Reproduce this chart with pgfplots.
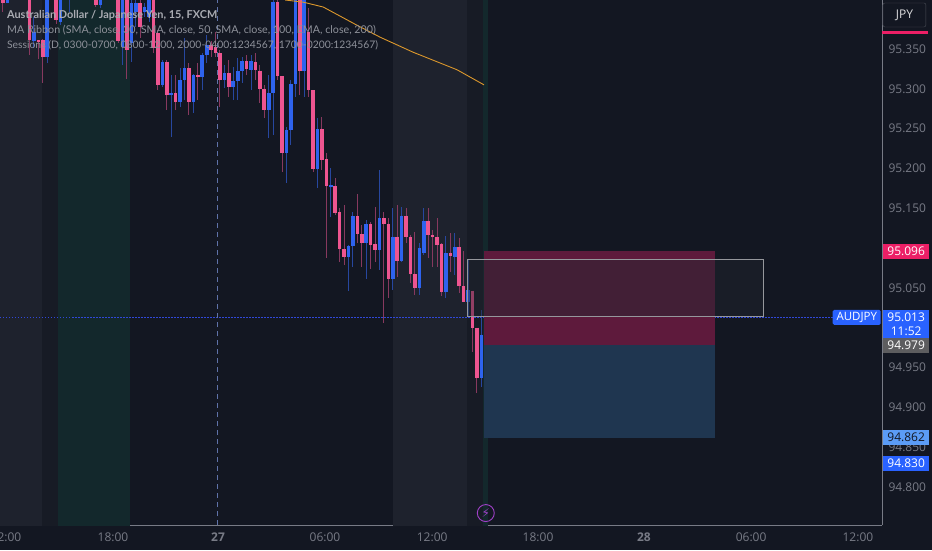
\documentclass[border=0pt]{standalone}
\usepackage{fontspec}
\setmainfont{Open Sans}
\newfontfamily\symfont{DejaVu Sans}
\newfontfamily\legendfont{Lato}
\usepackage{pgfplots}
\usepackage{pgfplotstable}
\pgfplotsset{compat=1.18}

\definecolor{bg}{HTML}{131722}
\definecolor{grayband}{HTML}{1E222D}
\definecolor{darkband}{HTML}{171B25}
\definecolor{tealband}{HTML}{13282C}
\definecolor{upbody}{HTML}{2E63EE}
\definecolor{upwick}{HTML}{27479F}
\definecolor{downbody}{HTML}{EE5590}
\definecolor{downwick}{HTML}{87395F}
\definecolor{axisline}{HTML}{787B86}
\definecolor{ticktext}{HTML}{787B86}
\definecolor{legendtext}{HTML}{8E919A}
\definecolor{tagblue}{HTML}{2962FF}
\definecolor{tagpink}{HTML}{EC1F66}
\definecolor{taggray}{HTML}{5D5D5F}
\definecolor{taglight}{HTML}{5B9CF6}
\definecolor{redbox}{HTML}{5E1A3C}
\definecolor{bluebox}{HTML}{1F3650}
\definecolor{maline}{HTML}{DC982C}
\definecolor{bolt}{HTML}{A040C8}
\definecolor{overlay}{HTML}{22262F}
\definecolor{lastprice}{HTML}{3048D8}

% bar number (15 min each, 0 = first bar of the 27th), body top, body bottom, high, low
\pgfplotstableread{
n top bot high low
-48 95.4200 95.4074 95.4500 95.4074
-42 95.3718 95.3605 95.3900 95.3509
-39 95.4300 95.3396 95.4500 95.3320
-36 95.4200 95.3844 95.4500 95.3800
-34 95.4500 95.4200 95.4500 95.3970
-27 95.4200 95.4053 95.4500 95.4011
-22 95.4200 95.3530 95.4500 95.3300
-20 95.4074 95.3572 95.4200 95.3341
-19 95.4074 95.3970 95.4120 95.3781
-17 95.4032 95.3970 95.4074 95.3900
-16 95.4200 95.3907 95.4500 95.3844
-13 95.3341 95.3048 95.3362 95.3019
-11 95.2943 95.2923 95.3174 95.2399
-9 95.3111 95.2839 95.3258 95.2776
-8 95.3258 95.3111 95.3634 95.2860
-6 95.3174 95.2839 95.3187 95.2692
-4 95.3425 95.3144 95.3446 95.2985
-3 95.3551 95.3425 95.3676 95.3320
1 95.3195 95.3111 95.3300 95.3006
3 95.3098 95.3019 95.3279 95.2860
4 95.3228 95.3098 95.3383 95.2860
5 95.3350 95.3228 95.3404 95.3069
7 95.3350 95.3237 95.3425 95.2985
11 95.2943 95.2734 95.3174 95.2378
12 95.4095 95.2943 95.4300 95.2420
15 95.2483 95.2198 95.2525 95.1821
16 95.3061 95.2483 95.3111 95.2294
17 95.4300 95.3061 95.4500 95.2902
19 95.4300 95.3228 95.4500 95.2902
22 95.2491 95.1989 95.2629 95.1750
25 95.1792 95.1771 95.2001 95.1394
29 95.1026 95.0883 95.1038 95.0464
30 95.1402 95.1026 95.1457 95.0758
33 95.1302 95.1067 95.1352 95.0607
36 95.1373 95.0975 95.1980 95.0724
39 95.1143 95.0611 95.1499 95.0473
41 95.1407 95.0841 95.1520 95.0829
45 95.0996 95.0494 95.1059 95.0410
46 95.1344 95.0942 95.1499 95.0913
51 95.0933 95.0452 95.1151 95.0368
53 95.1009 95.0883 95.1185 95.0661
56 95.0473 95.0326 95.0850 95.0138
59 94.9908 94.9363 95.0222 94.9258
60 95.0117 94.9908 95.0159 94.9908
}\upbars

\pgfplotstableread{
n top bot high low
-49 95.4200 95.4074 95.4500 95.3970
-43 95.4200 95.3613 95.4500 95.3425
-41 95.3613 95.3593 95.3613 95.3370
-40 95.3613 95.3404 95.3620 95.3077
-37 95.4200 95.3865 95.4500 95.3820
-28 95.4200 95.4053 95.4500 95.4032
-23 95.4200 95.3605 95.4500 95.3572
-21 95.4200 95.3488 95.4500 95.3119
-18 95.4074 95.3781 95.4120 95.3634
-15 95.4200 95.3509 95.4500 95.3446
-14 95.3697 95.3048 95.3740 95.2985
-12 95.3341 95.2923 95.3362 95.2734
-10 95.2943 95.2839 95.3174 95.2734
-7 95.3258 95.2839 95.3320 95.2671
-5 95.3174 95.3144 95.3320 95.2860
-2 95.3551 95.3490 95.3600 95.3400
-1 95.3530 95.3454 95.3718 95.3404
0 95.3446 95.3111 95.3488 95.2776
2 95.3203 95.3019 95.3362 95.2902
6 95.3350 95.3245 95.3425 95.3174
8 95.3341 95.3237 95.3446 95.3111
9 95.3228 95.2994 95.3300 95.2818
10 95.3002 95.2734 95.3048 95.2629
13 95.4095 95.3161 95.4300 95.3111
14 95.3161 95.2198 95.3165 95.1959
18 95.4300 95.3228 95.4500 95.2923
20 95.3718 95.2985 95.4011 95.2902
21 95.2985 95.1989 95.2990 95.1959
23 95.2495 95.2106 95.2646 95.1980
24 95.2119 95.1779 95.2194 95.0871
26 95.1779 95.1436 95.1876 95.1415
27 95.1457 95.0984 95.1499 95.0829
28 95.0984 95.0883 95.1540 95.0787
31 95.1402 95.1176 95.1679 95.1059
32 95.1176 95.1067 95.1289 95.0766
34 95.1302 95.1038 95.1331 95.0733
35 95.1051 95.0975 95.1520 95.0829
37 95.1373 95.1302 95.1457 95.0054
38 95.1302 95.0611 95.1373 95.0368
40 95.1143 95.0841 95.1540 95.0640
42 95.1407 95.1134 95.1499 95.1067
43 95.1134 95.0674 95.1164 95.0565
44 95.0674 95.0494 95.1206 95.0410
47 95.1344 95.1164 95.1499 95.0871
48 95.1164 95.1134 95.1227 95.0758
49 95.1134 95.1038 95.1373 95.0758
50 95.1051 95.0452 95.1059 95.0397
52 95.0933 95.0900 95.1185 95.0703
54 95.1009 95.0523 95.1122 95.0431
55 95.0523 95.0326 95.0967 95.0326
57 95.0464 94.9999 95.0464 94.9698
58 94.9999 94.9363 94.9999 94.9175
}\downbars

\newcommand{\band}[3]{\addplot[fill=#1,draw=none,forget plot] coordinates {(#2,94.7) (#2,95.45) (#3,95.45) (#3,94.7)} -- cycle;}
\newcommand{\wicks}[2]{\addplot[draw=none,forget plot,error bars/.cd,y dir=both,y explicit,error mark=none,
  error bar style={#2,line width=1pt}] table[x=n,y=top,y error plus expr=\thisrow{high}-\thisrow{top},y error minus expr=\thisrow{top}-\thisrow{low}] {#1};}
\newcommand{\bodies}[2]{\addplot[draw=none,forget plot,error bars/.cd,y dir=minus,y explicit,error mark=none,
  error bar style={#2,line width=3.6pt}] table[x=n,y=top,y error minus expr=\thisrow{top}-\thisrow{bot}] {#1};}
\newcommand{\pricetag}[4]{\node[fill=#2,text=#3,minimum width=46pt,minimum height=15pt,inner sep=0pt,anchor=west,font=\fontsize{12}{14}\selectfont] at (axis cs:149.66,#1) {#4};}

\begin{document}
\begin{tikzpicture}[x=1pt,y=1pt]
\path[use as bounding box,fill=bg] (0,0) rectangle (932,550);
\begin{axis}[
  at={(0pt,25pt)},anchor=south west,
  scale only axis,width=882pt,height=525pt,
  xmin=-49.66,xmax=149.44,ymin=94.7521,ymax=95.4116,
  axis x line=bottom,axis y line=right,
  axis line style={-,draw=axisline,line width=0.9pt},
  clip mode=individual,
  major tick length=0pt,
  xtick={-48.3,-24.15,-0.45,23.7,47.9,71.8,95.7,119.9,144},
  xticklabels={12:00,18:00,\textbf{27},06:00,12:00,18:00,\textbf{28},06:00,12:00},
  ytick={94.8,94.85,94.9,94.95,95.05,95.15,95.2,95.25,95.3,95.35},
  tick label style={font=\fontsize{12}{14}\selectfont,text=ticktext},
  xticklabel style={yshift=-4pt},
  yticklabel style={xshift=3pt},
  /pgf/number format/fixed,/pgf/number format/fixed zerofill,/pgf/number format/precision=3,
  /pgf/number format/assume math mode=true,
]
% session bands
\band{grayband}{-49.66}{-40.2}
\band{darkband}{-40.2}{-36.6}
\band{tealband}{-36.6}{-20.3}
\band{grayband}{39.05}{55.8}
\band{darkband}{55.8}{59.4}
\band{tealband}{59.4}{60.5}
% last price and day lines
\addplot[lastprice,dash pattern=on 1.5pt off 1.5pt,line width=0.9pt,forget plot] coordinates {(-49.66,95.013) (138.4,95.013)};
\addplot[color=axisline!70!tagblue,dash pattern=on 5pt off 4pt,line width=0.7pt,forget plot] coordinates {(-0.55,94.7521) (-0.55,95.4116)};
% candles
\wicks{\upbars}{upwick}
\wicks{\downbars}{downwick}
\bodies{\upbars}{upbody}
\bodies{\downbars}{downbody}
% MA
\addplot[color=maline,line width=0.9pt,forget plot] coordinates {
  (14.7,95.4116) (18.7,95.409) (23.3,95.4028) (30.9,95.380) (36.1,95.365) (43.6,95.346) (53.5,95.324) (59.6,95.305)};
% position boxes
\addplot[fill=redbox,draw=none,forget plot] coordinates {(59.6,94.9782) (59.6,95.0963) (111.7,95.0963) (111.7,94.9782)} -- cycle;
\addplot[fill=bluebox,draw=none,forget plot] coordinates {(59.6,94.8613) (59.6,94.9782) (111.7,94.9782) (111.7,94.8613)} -- cycle;
\addplot[fill=overlay,fill opacity=0.45,draw=white!55!bg,line width=0.9pt,forget plot] coordinates {(55.8,95.0146) (55.8,95.0862) (122.6,95.0862) (122.6,95.0146)} -- cycle;
% legend text
\node[anchor=west,text=legendtext!75!white,font=\legendfont\fontsize{10.9}{13}\selectfont\bfseries,inner sep=0pt] at (axis cs:-48.1,95.3928) {Australian Dollar / Japanese Yen, 15, FXCM};
\node[anchor=west,text=legendtext,font=\legendfont\fontsize{10.7}{13}\selectfont,inner sep=0pt] at (axis cs:-48.1,95.3739) {MA Ribbon (SMA, close, 30, SMA, close, 50, SMA, close, 100, EMA, close, 200)};
\node[anchor=west,text=legendtext,font=\legendfont\fontsize{10.35}{13}\selectfont,inner sep=0pt] at (axis cs:-48.1,95.3551) {Sessions (D, 0300-0700, 0800-1200, 2000-0400:1234567, 1700-0200:1234567)};
% lightning marker
\node[circle,draw=bolt,line width=0.9pt,minimum size=17pt,inner sep=0pt,text=bolt,font=\symfont\fontsize{12}{12}\selectfont] at (axis cs:60,94.7671) {⚡};
% right scale tags
\pricetag{95.0956}{tagpink}{white}{95.096}
\node[fill=tagblue,text=white,minimum width=46pt,minimum height=28pt,inner sep=0pt,anchor=west,align=center,font=\fontsize{12}{14}\selectfont] at (axis cs:149.66,95.0046) {95.013\\11:52};
\pricetag{94.9782}{taggray}{white}{94.979}
\pricetag{94.862}{taglight}{bg}{94.862}
\pricetag{94.8293}{tagblue}{white}{94.830}
\node[fill=tagblue,text=white,minimum width=48pt,minimum height=15pt,inner sep=0pt,anchor=east,rounded corners=1.5pt,font=\fontsize{11.5}{14}\selectfont] at (axis cs:149.2,95.013) {AUDJPY};
% currency button and pink marker
\node[draw=grayband!80!white,fill=bg,text=white!85!bg,rounded corners=2pt,minimum width=43pt,minimum height=24pt,inner sep=0pt,anchor=center,font=\fontsize{12}{14}\selectfont] at (axis cs:154.5,95.3928) {JPY};
\addplot[tagpink,line width=3pt,forget plot,clip=false] coordinates {(149.44,95.3714) (159.8,95.3714)};
\end{axis}
\end{tikzpicture}
\end{document}
